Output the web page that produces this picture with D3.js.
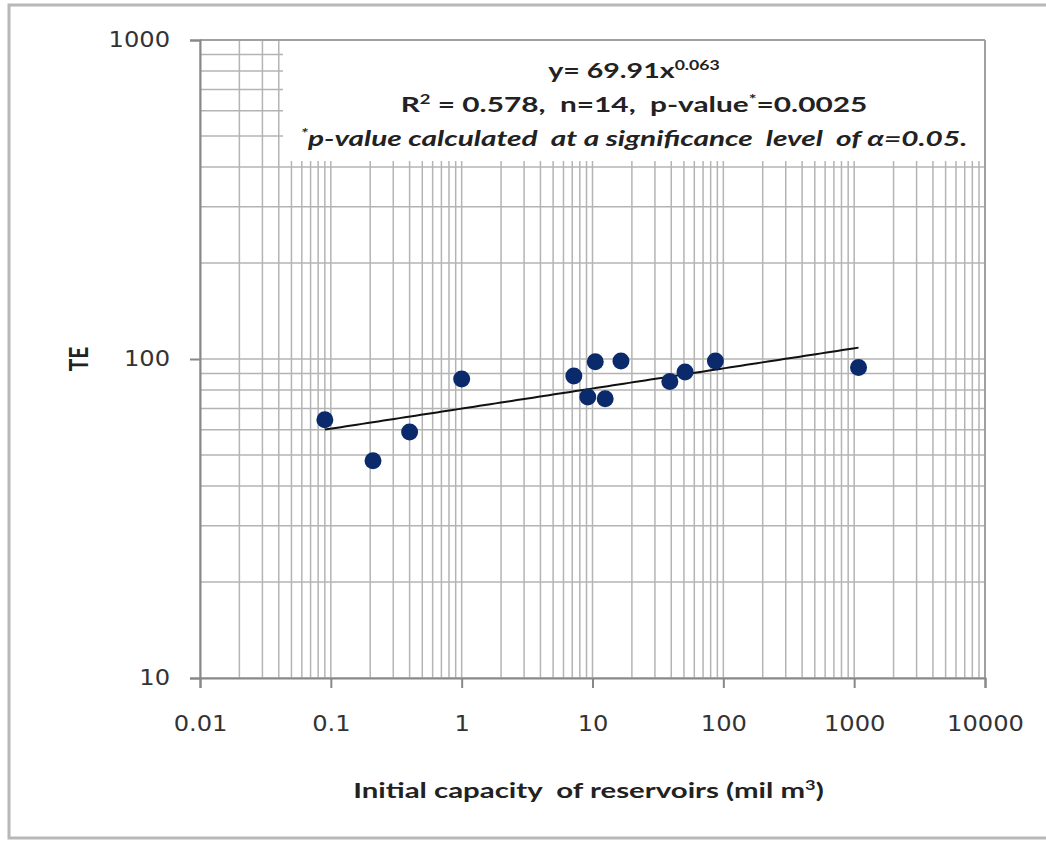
<!DOCTYPE html>
<html lang="en">
<head>
    <meta charset="UTF-8">
    <title>TE vs Initial capacity</title>
    <style>
        body{ margin:0; background:#fff; }
        .grid line{ stroke:#b4b4b4; stroke-width:1.5; }
        .tick text{ font-family:"DejaVu Sans", sans-serif; font-size:21px; fill:#333; }
        .title{ font-family:Lato, "Open Sans", sans-serif; font-weight:bold; fill:#222; white-space:pre; }
    </style>
</head>
<body>
    <svg width="1046" height="843"></svg>
    <script src="https://cdn.jsdelivr.net/npm/d3@7/dist/d3.min.js"></script>
    <script>
        // reservoir capacity (mil m3) and trap efficiency TE
        var capacity = [0.09, 0.21, 0.40, 1.0, 7.2, 9.2, 10.5, 12.5, 16.5, 39, 51, 87, 1080];
        var te       = [64.5, 48, 59, 86.5, 88.5, 76, 98, 75, 98.5, 85, 91, 98.5, 94];
        var xTicks = [0.01, 0.1, 1, 10, 100, 1000, 10000];
        var yTicks = [10, 100, 1000];
        var fitA = 69.91, fitB = 0.063;

        var svg = d3.select("svg"),
            margin = {top: 40, right: 61, bottom: 165, left: 200},
            width = +svg.attr("width") - margin.left - margin.right,
            height = +svg.attr("height") - margin.top - margin.bottom,
            stretch = 1.42;   // the picture is wider than tall, text too

        // outer chart frame
        svg.append("rect")
            .attr("x", 9).attr("y", 5)
            .attr("width", 1060).attr("height", 833)
            .attr("fill", "#fff").attr("stroke", "#b8b8b8").attr("stroke-width", 3);

        var g = svg.append("g").attr("transform", "translate(" + margin.left + "," + margin.top + ")");

        var x = d3.scaleLog().domain([0.01, 10000]).range([0, width]);
        var y = d3.scaleLog().domain([10, 1000]).range([height, 0]);

        // minor + major grid lines (1..9 per decade)
        var xGrid = [], yGrid = [];
        for (var e = -2; e < 4; e++) for (var m = 1; m < 10; m++) xGrid.push(m * Math.pow(10, e));
        xGrid.push(10000);
        for (var e = 1; e < 3; e++) for (var m = 1; m < 10; m++) yGrid.push(m * Math.pow(10, e));
        yGrid.push(1000);

        var grid = g.append("g").attr("class", "grid");
        grid.selectAll(".vx").data(xGrid).enter().append("line")
            .attr("x1", function(d){ return x(d); }).attr("x2", function(d){ return x(d); })
            .attr("y1", 0).attr("y2", height);
        grid.selectAll(".hy").data(yGrid).enter().append("line")
            .attr("y1", function(d){ return y(d); }).attr("y2", function(d){ return y(d); })
            .attr("x1", 0).attr("x2", width);

        // white equation box over the grid
        g.append("rect")
            .attr("x", 83).attr("y", 0)
            .attr("width", width - 83).attr("height", 121)
            .attr("fill", "#fff");
        g.append("line").attr("x1", 0).attr("x2", width).attr("y1", 0).attr("y2", 0)
            .attr("stroke", "#a0a0a0").attr("stroke-width", 2);
        g.append("line").attr("x1", width).attr("x2", width).attr("y1", 0).attr("y2", height)
            .attr("stroke", "#a0a0a0").attr("stroke-width", 2);

        // axes
        var xAxis = g.append("g")
            .attr("transform", "translate(0," + height + ")")
            .call(d3.axisBottom(x).tickValues(xTicks).tickSize(10).tickPadding(28)
                .tickFormat(function(d){ return String(d); }));
        xAxis.selectAll(".tick text").attr("transform", "scale(1.15,1)");

        var yAxis = g.append("g")
            .call(d3.axisLeft(y).tickValues(yTicks).tickSize(10).tickPadding(20)
                .tickFormat(function(d){ return String(d); }));
        yAxis.selectAll(".tick text").attr("x", 0).attr("transform", "translate(-30,0) scale(1.15,1)");

        [xAxis, yAxis].forEach(function(a){
            a.select(".domain").attr("stroke", "#888").attr("stroke-width", 2);
            a.selectAll(".tick line").attr("stroke", "#888").attr("stroke-width", 2);
        });

        // power trendline
        var lo = Math.log10(d3.min(capacity)), hi = Math.log10(d3.max(capacity));
        var fitX = d3.range(0, 101).map(function(i){ return Math.pow(10, lo + i / 100 * (hi - lo)); });
        g.append("path")
            .datum(fitX)
            .attr("fill", "none").attr("stroke", "#111").attr("stroke-width", 2)
            .attr("d", d3.line().x(function(d){ return x(d); }).y(function(d){ return y(fitA * Math.pow(d, fitB)); }));

        // points
        g.selectAll(".dot").data(capacity).enter().append("circle")
            .attr("class", "dot")
            .attr("cx", function(d){ return x(d); })
            .attr("cy", function(d, i){ return y(te[i]); })
            .attr("r", 8.5)
            .attr("fill", "#0a2a6c");

        // text that is widened like the rest of the picture
        function wideText(parent, px, py, sx, size) {
            return parent.append("g")
                .attr("transform", "translate(" + px + "," + py + ") scale(" + sx + ",1)")
                .append("text").attr("class", "title")
                .attr("text-anchor", "middle").style("font-size", size + "px");
        }

        // equation text
        var cx = (83 + width) / 2;
        var t1 = wideText(g, cx, 38, 1.36, 21);
        t1.append("tspan").text("y= " + fitA + "x");
        t1.append("tspan").attr("dy", -8).style("font-size", "13px").text(fitB.toFixed(3));

        var t2 = wideText(g, cx, 72, stretch, 21);
        t2.append("tspan").text("R");
        t2.append("tspan").attr("dy", -8).style("font-size", "13px").text("2");
        t2.append("tspan").attr("dy", 8).text(" = 0.578,  n=14,  p-value");
        t2.append("tspan").attr("dy", -8).style("font-size", "13px").text("*");
        t2.append("tspan").attr("dy", 8).text("=0.0025");

        var t3 = wideText(g, cx, 106, stretch, 21).style("font-style", "italic");
        t3.append("tspan").attr("dy", -8).style("font-size", "13px").text("*");
        t3.append("tspan").attr("dy", 8).text("p-value calculated  at a significance  level  of α=0.05.");

        // axis titles
        var xt = wideText(svg, margin.left + width / 2 - 4, 798, 1.4, 21);
        xt.append("tspan").text("Initial capacity  of reservoirs (mil m");
        xt.append("tspan").attr("dy", -8).style("font-size", "13px").text("3");
        xt.append("tspan").attr("dy", 8).text(")");

        svg.append("g")
            .attr("transform", "translate(88," + (margin.top + y(100)) + ") rotate(-90) scale(1,1.3)")
            .append("text").attr("class", "title")
            .attr("text-anchor", "middle")
            .style("font-size", "21px")
            .text("TE");
    </script>
</body>
</html>
